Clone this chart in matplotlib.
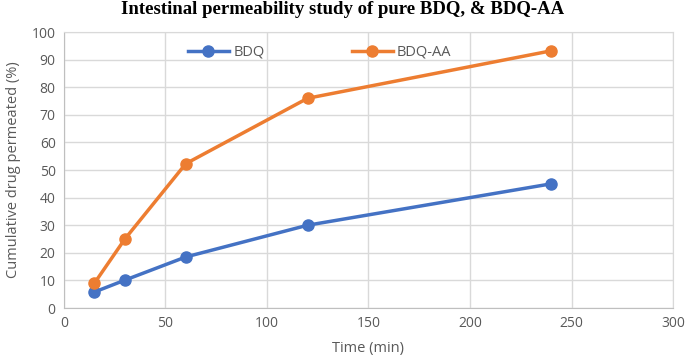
import matplotlib
matplotlib.use('Agg')
import matplotlib.pyplot as plt

time_min = [15, 30, 60, 120, 240]
bdq = [5.8, 10.1, 18.5, 30.0, 45.0]
bdq_aa = [9.0, 25.0, 52.3, 76.0, 93.2]

x_ticks = [0, 50, 100, 150, 200, 250, 300]
y_ticks = [0, 10, 20, 30, 40, 50, 60, 70, 80, 90, 100]

plt.rcParams['font.family'] = ['Open Sans', 'DejaVu Sans']
grey = '#595959'

fig = plt.figure(figsize=(6.85, 3.56), dpi=100)
ax = fig.add_axes([0.0934, 0.1348, 0.8891, 0.7752])

ax.plot(time_min, bdq, color='#4472C4', marker='o', markersize=8, linewidth=2.5, label='BDQ')
ax.plot(time_min, bdq_aa, color='#ED7D31', marker='o', markersize=8, linewidth=2.5, label='BDQ-AA')

ax.set_xlim(0, 300)
ax.set_ylim(0, 100)
ax.set_xticks(x_ticks)
ax.set_yticks(y_ticks)
ax.grid(True, color='#d9d9d9', linewidth=1)
ax.set_axisbelow(True)
for s in ax.spines.values():
    s.set_color('#d9d9d9')
ax.spines['bottom'].set_color('#bfbfbf')
ax.spines['left'].set_color('#bfbfbf')
ax.tick_params(length=0, colors=grey, labelsize=10, pad=6)

ax.set_xlabel('Time (min)', color=grey, fontsize=10.5, labelpad=7)
ax.set_ylabel('Cumulative drug permeated (%)', color=grey, fontsize=10.5, labelpad=8)

fig.suptitle('Intestinal permeability study of pure BDQ, & BDQ-AA', fontsize=13.5,
             fontweight='bold', family='Liberation Serif', y=0.998)

ax.legend(loc='center', bbox_to_anchor=(0.42, 0.927), ncol=2, frameon=False,
          columnspacing=6.0, handlelength=2.8, handletextpad=0.3, fontsize=10.5,
          labelcolor=grey)

fig.savefig('out.png', dpi=100)
